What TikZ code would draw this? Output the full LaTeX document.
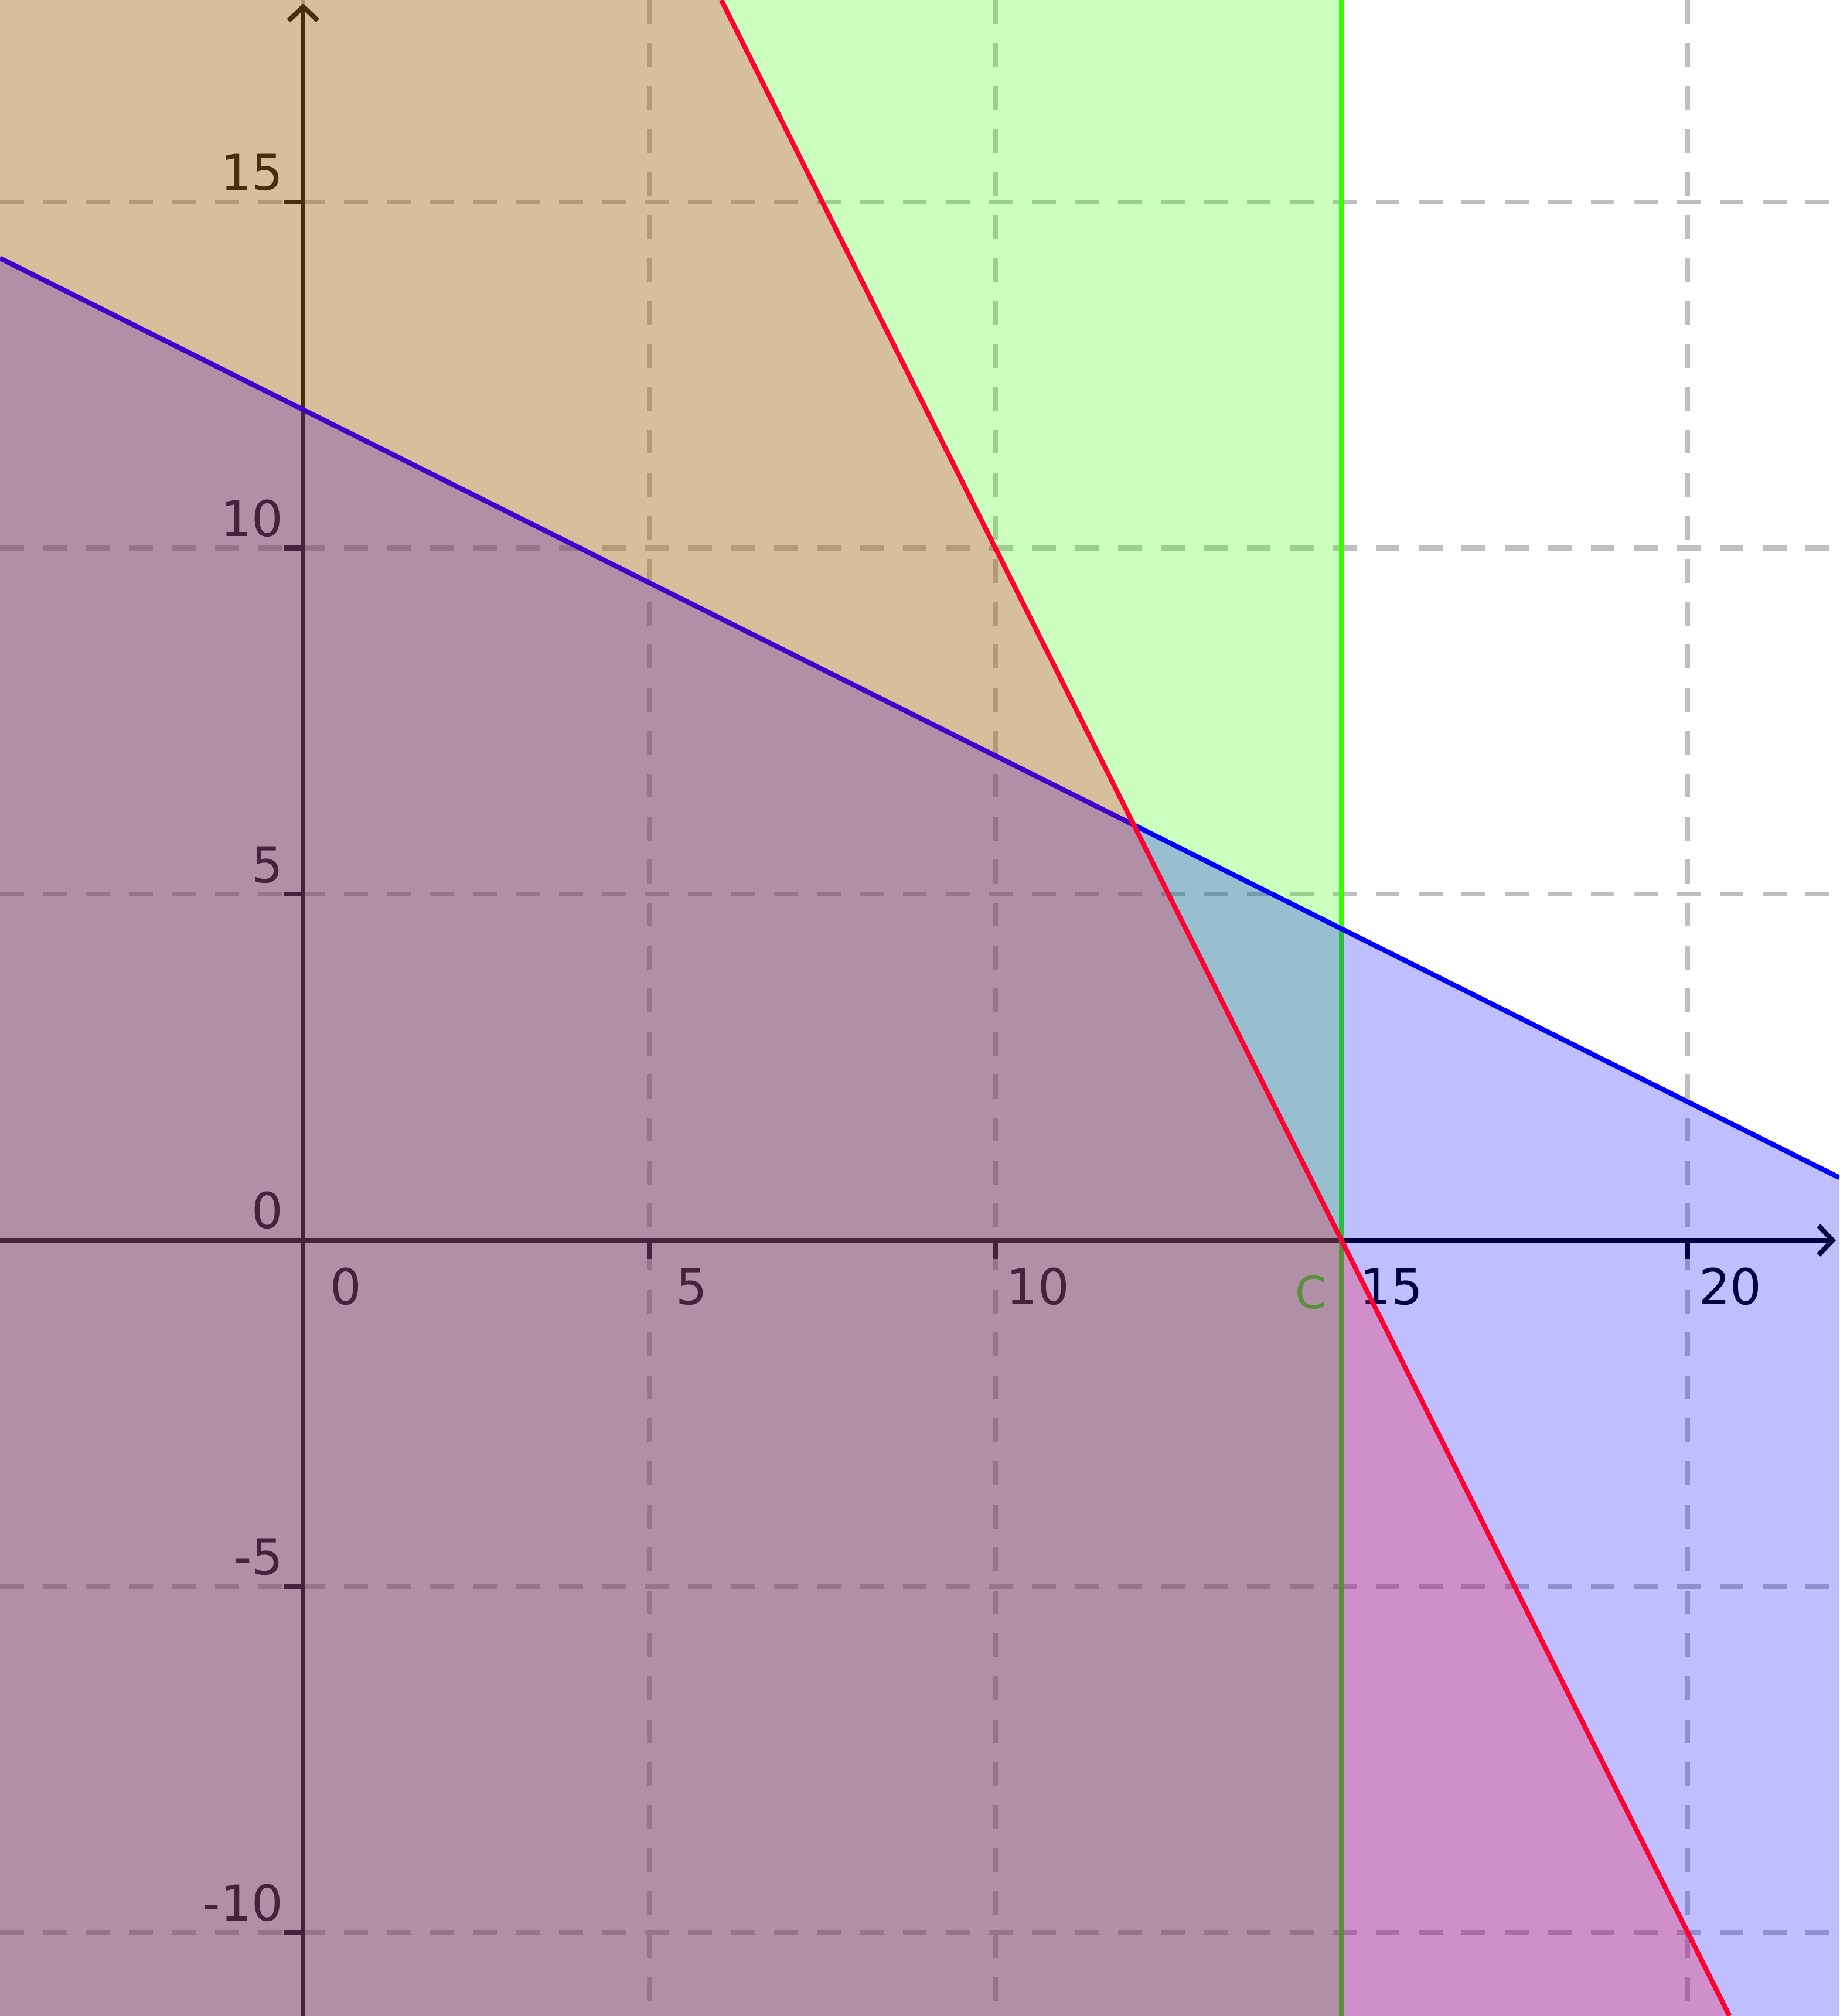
\documentclass[tikz,border=0pt]{standalone}
\usepackage{fontspec}
\setmainfont{DejaVu Sans}
\usetikzlibrary{arrows.meta}
\definecolor{gridgray}{RGB}{191,191,191}
\definecolor{cgreen}{RGB}{51,255,0}
\definecolor{cblue}{RGB}{0,0,255}
\definecolor{cred}{RGB}{255,0,51}
\begin{document}
\begin{tikzpicture}[
  x=1cm,y=1cm,
  gridline/.style={draw=gridgray, line width=2pt, dash pattern=on 0.345cm off 0.276cm},
  axisline/.style={draw=black, line width=2pt},
  axisarrow/.style={axisline, -{Straight Barb[length=0.2cm,width=0.42cm]}},
  tickmark/.style={draw=black, line width=2pt},
  ticklabel/.style={font=\fontsize{20.3}{24}\selectfont, inner sep=0pt, text=black},
  region/.style={fill opacity=0.25},
  boundary/.style={line width=2pt},
]
\coordinate (BL) at (-4.3787,-11.207);
\coordinate (TR) at (22.191,17.919);
\useasboundingbox (BL) rectangle (TR);
\begin{scope}
\clip (BL) rectangle (TR);
\fill[white] (BL) rectangle (TR);
% grid
\foreach \x in {0,5,10,15,20} \draw[gridline] (\x,17.919) -- (\x,-11.207);
\foreach \y in {-10,-5,0,5,10,15} \draw[gridline] (-4.3787,\y) -- (22.191,\y);
% axes
\coordinate (xs) at (-4.3787,0);
\coordinate (xe) at (22.14,0);
\coordinate (ys) at (0,-11.207);
\coordinate (ye) at (0,17.87);
\draw[axisarrow] (xs) -- (xe);
\draw[axisarrow] (ys) -- (ye);
\foreach \x in {5,10,15,20} \draw[tickmark] (\x,0) -- (\x,-0.27);
\foreach \y in {-10,-5,5,10,15} \draw[tickmark] (0,\y) -- (-0.27,\y);
% tick labels
\node[ticklabel, anchor=base] (lx0) at (0.615,-0.927) {0};
\node[ticklabel, anchor=base] (lx5) at (5.615,-0.927) {5};
\node[ticklabel, anchor=base] (lx10) at (10.615,-0.927) {10};
\node[ticklabel, anchor=base] (lx15) at (15.72,-0.927) {15};
\node[ticklabel, anchor=base] (lx20) at (20.615,-0.927) {20};
\node[ticklabel, anchor=base east] (ly15) at (-0.28,15.17) {15};
\node[ticklabel, anchor=base east] (ly10) at (-0.28,10.17) {10};
\node[ticklabel, anchor=base east] (ly5) at (-0.28,5.17) {5};
\node[ticklabel, anchor=base east] (ly0) at (-0.28,0.17) {0};
\node[ticklabel, anchor=base east] (lym5) at (-0.28,-4.83) {-5};
\node[ticklabel, anchor=base east] (lym10) at (-0.28,-9.83) {-10};
% green: x <= 15
\coordinate (g1) at (15,17.919);
\coordinate (g2) at (15,-11.207);
\fill[cgreen, region] (BL) rectangle (g1);
\draw[cgreen, boundary] (g1) -- (g2);
\node[anchor=base, inner sep=0pt, text=cgreen, font=\fontsize{18.3}{22}\selectfont] (C) at (14.56,-0.985) {C};
% blue: x + 2y <= 24
\coordinate (b1) at (-4.3787,14.18935);
\coordinate (b2) at (22.191,0.9045);
\coordinate (BR) at (22.191,-11.207);
\fill[cblue, region] (b1) -- (b2) -- (BR) -- (BL) -- cycle;
\draw[cblue, boundary] (b1) -- (b2);
% red: 2x + y <= 30
\coordinate (TL) at (-4.3787,17.919);
\coordinate (r1) at (6.0405,17.919);
\coordinate (r2) at (20.6035,-11.207);
\fill[cred, region] (TL) -- (r1) -- (r2) -- (BL) -- cycle;
\draw[cred, boundary] (r1) -- (r2);
\end{scope}
\end{tikzpicture}
\end{document}
